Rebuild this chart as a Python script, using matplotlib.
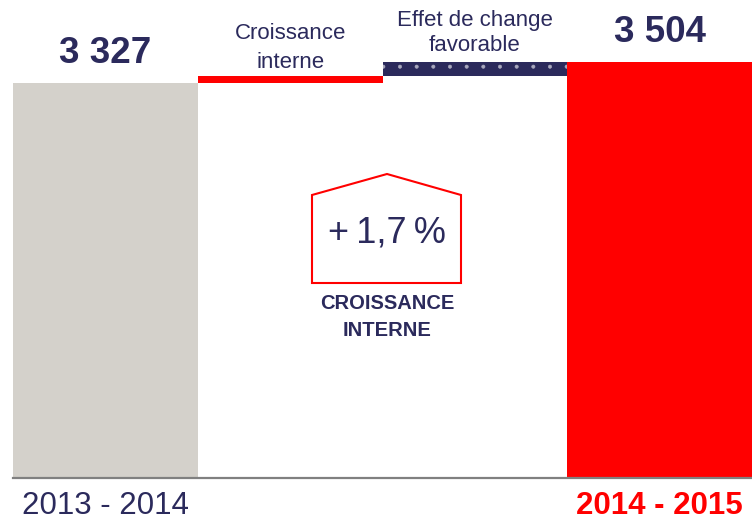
import matplotlib
matplotlib.use("Agg")
import matplotlib.pyplot as plt
import matplotlib.transforms as mtransforms
from matplotlib.patches import Polygon
import numpy as np

plt.rcParams['font.family'] = ['Liberation Sans', 'DejaVu Sans']
plt.rcParams['hatch.linewidth'] = 0.4

categories = ['2013 - 2014', 'Croissance\ninterne', 'Effet de change\nfavorable', '2014 - 2015']
values = [3327, 57, 120, 3504]
kinds = ['total', 'delta', 'delta', 'total']
value_labels = ['3 327', '', '', '3 504']
growth_text = '+\u20091,7\u2009%'
growth_caption = 'CROISSANCE\nINTERNE'

NAVY = '#2B2A5C'
RED = '#FF0000'
GREY = '#D4D1CB'

fig = plt.figure(figsize=(7.52, 5.22), dpi=100)
W, H = 752, 522
ax = fig.add_axes([13 / W, 44 / H, 1 - 13 / W, 1 - 44 / H])

# waterfall bottoms
bottoms = []
running = 0
for v, k in zip(values, kinds):
    if k == 'total':
        bottoms.append(0)
        running = v
    else:
        bottoms.append(running)
        running += v

x = np.arange(len(values))
colors = [GREY, RED, NAVY, RED]
for i in range(len(values)):
    if i == 2:
        ax.bar(x[i], values[i], bottom=bottoms[i], width=1.0, color=NAVY,
               edgecolor='#A9A9BE', hatch='.', linewidth=0)
    else:
        ax.bar(x[i], values[i], bottom=bottoms[i], width=1.0, color=colors[i],
               linewidth=0)

ax.set_xlim(-0.5, 3.5)
ax.set_ylim(0, 4026)
for s in ['top', 'right', 'left']:
    ax.spines[s].set_visible(False)
ax.spines['bottom'].set_color('#808080')
ax.spines['bottom'].set_linewidth(1.6)
ax.set_xticks([])
ax.set_yticks([])

# value labels above totals
for i in range(len(values)):
    top = bottoms[i] + values[i]
    if value_labels[i]:
        ax.annotate(value_labels[i], xy=(x[i], top), xytext=(0, 21),
                    textcoords='offset points', ha='center', va='center',
                    fontsize=26.5, fontweight='bold', color=NAVY)

# delta labels
ax.annotate(categories[1], xy=(x[1], bottoms[1] + values[1]), xytext=(0, 2),
            textcoords='offset points', ha='center', va='bottom',
            fontsize=16, color=NAVY, linespacing=1.55)
ax.annotate(categories[2], xy=(x[2], bottoms[2] + values[2]), xytext=(0, 4),
            textcoords='offset points', ha='center', va='bottom',
            fontsize=16, color=NAVY, linespacing=1.3)

# category labels below axis
trans = mtransforms.blended_transform_factory(ax.transData, fig.transFigure)
ax.text(x[0], 1 - 506 / H, categories[0], transform=trans, ha='center', va='center',
        fontsize=22.5, color=NAVY)
ax.text(x[3], 1 - 506 / H, categories[3], transform=trans, ha='center', va='center',
        fontsize=22.5, color=RED, fontweight='bold')

# house shape
pts = [(312, 283), (461, 283), (461, 195), (387, 174), (312, 195)]
house = Polygon([(px / W, 1 - py / H) for px, py in pts], closed=True,
                fill=False, edgecolor=RED, linewidth=1.5, transform=fig.transFigure)
fig.patches.append(house)
fig.text(387 / W, 1 - 233 / H, growth_text, ha='center', va='center',
         fontsize=26, color=NAVY)
fig.text(387 / W, 1 - 317 / H, growth_caption, ha='center', va='center',
         fontsize=14.5, color=NAVY, fontweight='bold', linespacing=1.5)

fig.savefig('out.png', dpi=100)
